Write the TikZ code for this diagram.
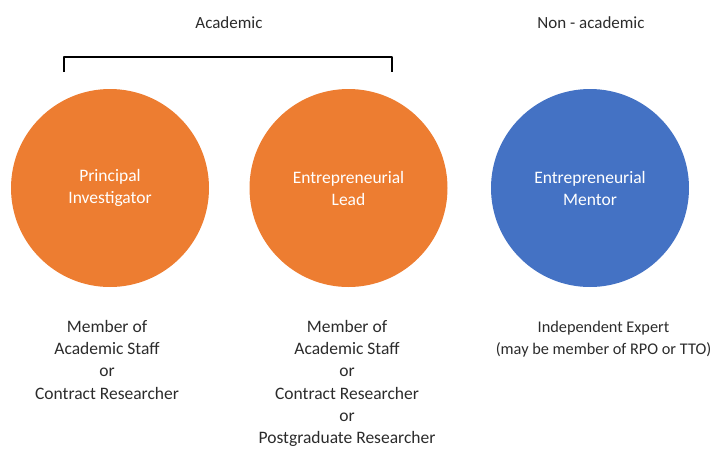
\documentclass[tikz,border=0pt]{standalone}
\usepackage{fontspec}
\setmainfont{Carlito}
\definecolor{orng}{HTML}{ED7D31}
\definecolor{blu}{HTML}{4472C4}
\definecolor{txtgray}{HTML}{2B2B2B}
\begin{document}
\begin{tikzpicture}[x=1pt,y=-1pt,
  role/.style={circle, minimum size=198pt, inner sep=0pt, text=white, align=center,
    font=\fontsize{17.5}{22}\selectfont},
  txt/.style={align=center, text=txtgray, inner sep=0pt,
    font=\fontsize{17.5}{22.3}\selectfont},
  head/.style={text=txtgray, inner sep=0pt, font=\fontsize{17}{23}\selectfont},
  brk/.style={line width=2.5pt, line join=round, black}]
\useasboundingbox (0,0) rectangle (713,448);
\node[head] (acad) at (229,23) {Academic};
\node[head] (nonacad) at (591,23) {Non - academic};
\coordinate (bl) at (64,72);
\coordinate (bla) at (64,57);
\coordinate (bra) at (392,57);
\coordinate (br) at (392,72);
\draw[brk] (bl) -- (bla) -- (bra) -- (br);
\node[role, fill=orng] (pi) at (110,188) {Principal\\Investigator};
\node[role, fill=orng] (el) at (348.5,188) {Entrepreneurial\\Lead};
\node[role, fill=blu] (em) at (590,188) {Entrepreneurial\\Mentor};
\node[txt, anchor=north] (pit) at (107,320) {Member of\\Academic Staff\\or\\Contract Researcher};
\node[txt, anchor=north] (elt) at (347,320) {Member of\\Academic Staff\\or\\Contract Researcher\\or\\Postgraduate Researcher};
\node[txt, anchor=north, font=\fontsize{16.3}{22.3}\selectfont] (emt) at (603.5,321) {Independent Expert\\(may be member of RPO or TTO)};
\end{tikzpicture}
\end{document}
